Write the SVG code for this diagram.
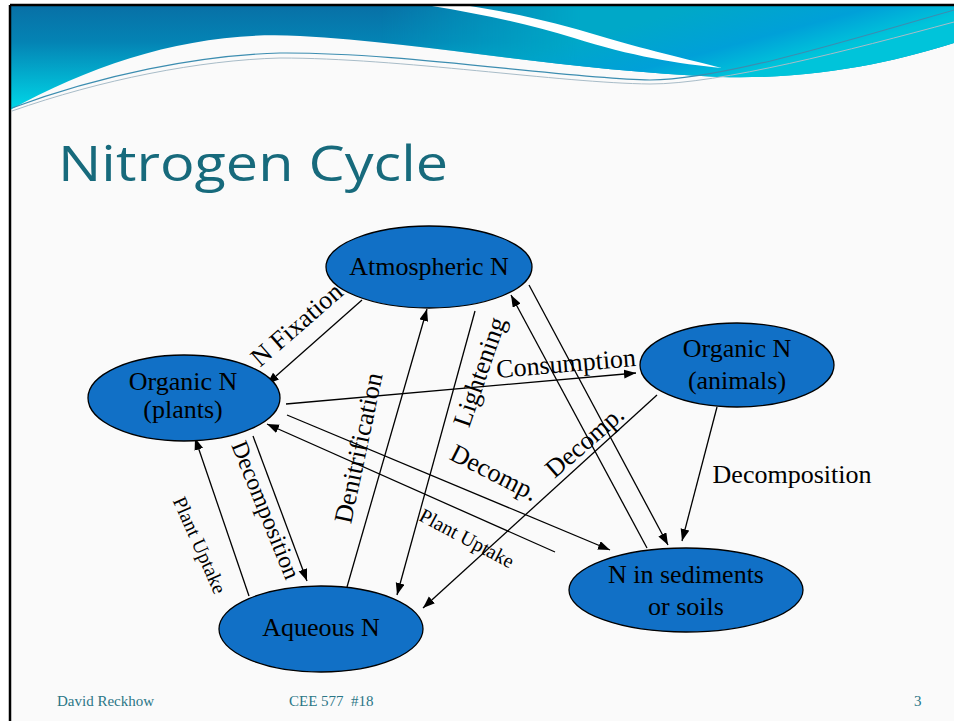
<svg xmlns="http://www.w3.org/2000/svg" width="954" height="721" viewBox="0 0 954 721">
<defs>
<linearGradient id="bandL" gradientUnits="userSpaceOnUse" x1="0" y1="5" x2="0" y2="110">
<stop offset="0" stop-color="#0870A6"/>
<stop offset="0.35" stop-color="#0483B4"/>
<stop offset="1" stop-color="#00D8E8"/>
</linearGradient>
<linearGradient id="bandR" gradientUnits="userSpaceOnUse" x1="700" y1="6" x2="720" y2="80">
<stop offset="0" stop-color="#00A8C8"/>
<stop offset="0.6" stop-color="#00A0D8"/>
<stop offset="1" stop-color="#00C4DA"/>
</linearGradient>
<linearGradient id="fadeX" gradientUnits="userSpaceOnUse" x1="380" y1="0" x2="580" y2="0">
<stop offset="0" stop-color="#fff" stop-opacity="0"/>
<stop offset="1" stop-color="#fff" stop-opacity="1"/>
</linearGradient>
<mask id="rmask"><rect x="0" y="0" width="954" height="130" fill="url(#fadeX)"/></mask>
<marker id="ah" markerUnits="userSpaceOnUse" markerWidth="13" markerHeight="10" refX="12" refY="4.5" orient="auto">
<path d="M0,0 L12,4.5 L0,9 z" fill="#000"/>
</marker>
</defs>
<style>
.node ellipse{fill:#1170C6;stroke:#000;stroke-width:1.3}
.nt{font-family:"Liberation Serif","Times New Roman",serif;font-size:26px;fill:#000;text-anchor:middle}
.lab{font-family:"Liberation Serif","Times New Roman",serif;font-size:26px;fill:#000;text-anchor:middle}
.sm{font-size:20px}
.md{font-size:24px}
#connectors line{stroke:#000;stroke-width:1.3;marker-end:url(#ah)}
.foot{font-family:"Liberation Serif","Times New Roman",serif;font-size:15px;fill:#2B7686}
</style>
<rect x="0" y="0" width="954" height="721" fill="#fff"/>
<rect x="10" y="5" width="944" height="716" fill="#FAFAFA"/>
<!-- header band -->
<path d="M10,5 H954 V43 C900,60 820,80 720,77 C560,70 420,42 300,36 C200,30 100,60 10,110 Z" fill="url(#bandL)"/>
<path d="M10,5 H954 V43 C900,60 820,80 720,77 C560,70 420,42 300,36 C200,30 100,60 10,110 Z" fill="url(#bandR)" mask="url(#rmask)"/>
<path d="M432,6 L470,6 C520,14 560,24 600,36 C640,48 690,60 722,68 C680,64 630,56 574,38 C530,24 480,14 432,6 Z" fill="#FFFFFF"/>
<path d="M12,108 C100,75 200,55 280,53 C400,52 560,78 650,80 C720,80 850,40 954,10" fill="none" stroke="#3C8DB0" stroke-width="1.1"/>
<path d="M12,111 C100,80 200,60 280,58 C400,58 560,83 650,84 C720,84 850,50 954,22" fill="none" stroke="#A8BCC8" stroke-width="1"/>
<path d="M10,5 H954 M10,5 V721" fill="none" stroke="#000" stroke-width="2.5"/>
<text x="58" y="181" font-family="'Open Sans','Noto Sans','Liberation Sans',sans-serif" font-size="50" fill="#176A7C" textLength="390" lengthAdjust="spacingAndGlyphs">Nitrogen Cycle</text>
<g id="connectors">
<line x1="362" y1="300" x2="267" y2="384"/>
<line x1="347" y1="587" x2="427" y2="309"/>
<line x1="475" y1="311" x2="397" y2="595"/>
<line x1="286" y1="404" x2="636" y2="373"/>
<line x1="287" y1="415" x2="610" y2="550"/>
<line x1="555" y1="552" x2="267" y2="424"/>
<line x1="657" y1="395" x2="423" y2="608"/>
<line x1="529" y1="285" x2="668" y2="545"/>
<line x1="647" y1="548" x2="511" y2="295"/>
<line x1="717" y1="407" x2="682" y2="541"/>
<line x1="249" y1="596" x2="195" y2="438"/>
<line x1="253" y1="436" x2="307" y2="581"/>
</g>
<g id="labels">
<text class="lab" transform="translate(297,325) rotate(-41)" y="8">N Fixation</text>
<text class="lab" transform="translate(359,448) rotate(-78)" y="8">Denitrification</text>
<text class="lab" transform="translate(480,372) rotate(-71)" y="8">Lightening</text>
<text class="lab" transform="translate(566,364) rotate(-5)" y="8">Consumption</text>
<text class="lab" transform="translate(494,473) rotate(27)" y="8">Decomp.</text>
<text class="lab" transform="translate(585,442) rotate(-41)" y="8">Decomp.</text>
<text class="lab" x="792" y="483">Decomposition</text>
<text class="lab md" transform="translate(266,510) rotate(68)" y="8">Decomposition</text>
<text class="lab sm" transform="translate(200,545) rotate(66)" y="7">Plant Uptake</text>
<text class="lab sm" transform="translate(467,538) rotate(28)" y="7">Plant Uptake</text>
</g>
<g id="atmospheric" class="node">
<ellipse cx="429" cy="267" rx="103" ry="41"/>
<text class="nt" x="429" y="275">Atmospheric N</text>
</g>
<g id="plants" class="node">
<ellipse cx="184" cy="398" rx="96" ry="43"/>
<text class="nt" x="183" y="390">Organic N</text>
<text class="nt" x="183" y="418">(plants)</text>
</g>
<g id="animals" class="node">
<ellipse cx="737" cy="365" rx="97" ry="42"/>
<text class="nt" x="737" y="357">Organic N</text>
<text class="nt" x="737" y="389">(animals)</text>
</g>
<g id="sediments" class="node">
<ellipse cx="686" cy="590" rx="117" ry="42"/>
<text class="nt" x="686" y="583">N in sediments</text>
<text class="nt" x="686" y="615">or soils</text>
</g>
<g id="aqueous" class="node">
<ellipse cx="321" cy="629" rx="102" ry="43"/>
<text class="nt" x="321" y="636">Aqueous N</text>
</g>
<text class="foot" x="57" y="706">David Reckhow</text>
<text class="foot" x="289" y="706">CEE 577&#160;&#160;#18</text>
<text class="foot" x="914" y="706">3</text>
</svg>
